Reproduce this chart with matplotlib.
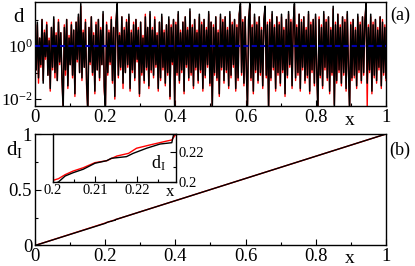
import numpy as np
import matplotlib
matplotlib.use('Agg')
import matplotlib.pyplot as plt
from matplotlib.ticker import FixedLocator, NullFormatter, FixedFormatter

plt.rcParams['font.family'] = ['Liberation Serif', 'DejaVu Serif']
plt.rcParams['mathtext.fontset'] = 'custom'
plt.rcParams['mathtext.rm'] = 'Liberation Serif'
plt.rcParams['mathtext.it'] = 'Liberation Serif:italic'

# panel (a): log10 of d, black and red runs
log_d_black = [
    0.6, -0.9, 0.9, -1.2, 0.3, -0.7, 1.0, -1.4, 0.5, -0.4, 0.8, -1.1, 0.2, -1.6, 0.7, -0.8, 1.1, -1.0, 0.4, -1.3,
    0.9, -0.6, 0.5, -1.2, -2.4, 0.7, -0.9, 1.0, -1.5, 0.3, -0.7, 0.8, -1.1, 0.6, -1.8, 0.9, -0.5, 1.2, -1.0, 1.6,
    -1.2, 0.5, -0.8, 0.9, -1.4, -2.5, 0.7, -0.6, 1.1, -1.0, 0.4, -1.7, 0.8, -0.9, 1.0, -1.2, 0.6, -0.7, 1.3, -1.5,
    -2.4, 0.8, -1.0, 0.5, -0.6, 1.0, -1.3, 0.7, -1.9, 0.9, 1.6, -1.1, 0.4, -0.8, 1.1, -1.4, 0.6, -1.0, 0.9, -0.7,
    1.2, -1.6, 0.5, -0.9, 0.8, -1.2, 1.0, -0.5, 0.6, -1.8, 0.9, -1.0, 0.3, -1.3, 1.1, -0.8, 0.7, -1.5, 1.3, -0.9,
    0.6, -1.1, 1.0, -0.7, 0.4, -1.6, 0.9, -1.2, 1.2, -0.8, 0.5, -1.4, 0.8, -1.0, 1.1, -1.9, 0.7, -0.6, 1.0, -2.4,
    0.8, -1.0, 1.3, -1.3, 0.5, -0.9, 0.9, -1.7, 1.1, -0.7, 0.6, -1.2, 1.4, -1.0, 0.7, -1.5, 1.0, -0.8, 0.5, -1.3,
    1.2, -0.9, 0.8, -1.6, 1.0, -1.1, 0.6, -0.7, 1.3, -1.4, 0.9, -2.5, 0.7, -1.0, 1.1, -1.2, 0.5, -1.8, 1.2, -0.8,
    0.9, -1.3, 1.1, -0.9, 0.6, -1.5, 1.3, -1.1, 0.8, -0.7, 1.0, -1.6, 0.7, -1.2, 1.2, 1.6, -1.0, 0.9, -1.4, 1.1,
    -0.8, -2.4, 1.0, 1.6, -1.2, 0.7, -1.7, 1.2, -0.9, 0.8, -1.3, 1.1, -1.0, 0.6, -1.5, 1.0, 1.5, -1.1, 0.8, -2.5,
    0.9, -1.2, 1.3, -0.8, 0.7, -1.6, 1.1, -1.0, 0.8, -1.4, 1.2, -0.9, 0.6, -1.8, 1.0, -1.1, 1.3, -0.7, 0.9, -1.5,
    0.8, 1.6, -1.2, 0.7, -1.0, 1.2, -1.6, 0.9, -0.8, 1.1, -1.3, 0.6, -1.1, 1.3, -1.7, 0.8, -0.9, 1.0, -1.4, 1.2,
    -0.9, -2.5, 1.0, -1.1, 0.7, -1.5, 1.3, -0.8, 0.9, -1.2, 1.1, -1.7, 0.6, -1.0, 1.5, -2.4, 0.8, -1.3, 1.2, -0.9,
    0.7, -1.4, 1.1, -1.0, 0.9, -1.6, 1.3, -0.8, -2.5, 0.8, -1.2, 1.0, -1.1, 0.6, -1.5, 1.2, -0.9, 0.8, -1.3, 1.1,
    -1.0, 0.9, 1.6, -1.4, 0.7, -0.9, 1.2, -1.7, 0.8, -1.1, 1.0, -1.3, 0.6, -0.8, 1.1, -1.5, 0.9, -1.0, 0.7, -1.2,
]
log_d_red = [
    0.7, -0.9, 0.8, -1.4, 0.3, -0.8, 1.0, -1.3, 0.6, -0.5, 0.9, -1.1, 0.3, -1.7, 0.7, -0.9, 1.0, -1.2, 0.5, -1.3,
    1.0, -0.7, 0.5, -1.3, -2.3, 0.8, -1.1, 1.0, -1.6, 0.4, -0.7, 0.9, -1.2, 0.6, -1.9, 0.9, -0.6, 1.1, -1.0, 1.5,
    -1.3, 0.6, -0.8, 1.0, -1.6, -2.4, 0.7, -0.7, 1.1, -1.1, 0.5, -1.8, 0.9, -0.9, 1.0, -1.3, 0.7, -0.7, 1.2, -1.7,
    -2.2, 0.9, -1.1, 0.6, -0.7, 1.1, -1.4, 0.7, -2.0, 0.9, 1.5, -1.2, 0.5, -0.9, 1.1, -1.6, 0.7, -1.0, 1.0, -0.8,
    1.1, -1.7, 0.6, -1.0, 0.9, -1.3, 1.0, -0.6, 0.7, -1.9, 0.9, -1.1, 0.4, -1.4, 1.2, -0.9, 0.7, -1.6, 1.2, -1.0,
    0.7, -1.2, 1.1, -0.8, 0.5, -1.7, 0.9, -1.3, 1.1, -0.9, 0.6, -1.5, 0.8, -1.1, 1.0, -2.0, 0.8, -0.7, 1.0, -2.2,
    0.9, -1.1, 1.2, -1.4, 0.6, -1.0, 0.9, -1.8, 1.1, -0.8, 0.7, -1.3, 1.3, -1.1, 0.8, -1.6, 1.0, -0.9, 0.6, -1.4,
    1.1, -1.0, 0.9, -1.7, 1.0, -1.2, 0.7, -0.8, 1.2, -1.5, 0.9, -2.3, 0.8, -1.1, 1.1, -1.3, 0.6, -1.9, 1.1, -0.9,
    1.0, -1.4, 1.1, -1.0, 0.7, -1.6, 1.2, -1.2, 0.9, -0.8, 1.0, -1.7, 0.8, -1.3, 1.2, 1.5, -1.1, 1.0, -1.5, 1.1,
    -0.9, -2.2, 1.0, 1.5, -1.3, 0.8, -1.8, 1.1, -1.0, 0.9, -1.4, 1.1, -1.1, 0.7, -1.6, 1.0, 1.4, -1.2, 0.9, -2.3,
    1.0, -1.3, 1.2, -0.9, 0.8, -1.7, 1.1, -1.1, 0.9, -1.5, 1.1, -1.0, 0.7, -1.9, 1.0, -1.2, 1.2, -0.8, 1.0, -1.6,
    0.9, 1.5, -1.3, 0.8, -1.1, 1.2, -1.7, 1.0, -0.9, 1.1, -1.4, 0.7, -1.2, 1.2, -1.8, 0.9, -1.0, 1.0, -1.5, 1.1,
    -1.0, -2.3, 1.1, -1.2, 0.8, -1.6, 1.2, -0.9, 1.0, -1.3, 1.1, -1.8, 0.7, -1.1, 1.4, -2.2, 0.9, -1.4, 1.2, -1.0,
    0.8, -1.5, 1.1, -1.1, 1.0, -1.7, 1.2, -0.9, -2.3, 0.9, -1.3, 1.0, -1.2, 0.7, -1.6, 1.1, -1.0, 0.9, -1.4, 1.1,
    -1.1, 1.0, 1.5, -2.3, 0.8, -1.0, 1.1, -1.8, 0.9, -1.2, 1.0, -1.4, 0.7, -0.9, 1.1, -1.6, 1.0, -1.1, 0.8, -1.3,
]
d_mean = 1.0

# panel (b): d_I against x (main curve is the diagonal, detail from inset)
black_x = [0.0, 0.2013, 0.2029, 0.2048, 0.2072, 0.2100, 0.2128, 0.2139, 0.2175, 0.2191, 0.2223, 0.2255, 0.2283, 0.2287, 1.0]
black_y = [0.0, 0.2000, 0.2040, 0.2062, 0.2085, 0.2125, 0.2142, 0.2158, 0.2169, 0.2191, 0.2225, 0.2253, 0.2262, 0.2313, 1.0]
red_x = [0.0, 0.2, 0.2013, 0.2029, 0.2048, 0.2072, 0.2100, 0.2128, 0.2152, 0.2180, 0.2199, 0.2231, 0.2271, 0.2283, 0.2293, 1.0]
red_y = [0.0, 0.2011, 0.2022, 0.2049, 0.2073, 0.2095, 0.2129, 0.2142, 0.2173, 0.2191, 0.2225, 0.2247, 0.2273, 0.2280, 0.2320, 1.0]

x_a = np.linspace(0, 1, len(log_d_black))
d_black = 10 ** np.array(log_d_black)
d_red = 10 ** np.array(log_d_red)

fig = plt.figure(figsize=(4.15, 2.66), dpi=100)
ax_a = fig.add_axes([0.0843, 0.6015, 0.8458, 0.391])
ax_b = fig.add_axes([0.0843, 0.0771, 0.8458, 0.4191])
ax_in = fig.add_axes([0.1277, 0.3158, 0.2964, 0.1805])

for ax in (ax_a, ax_b, ax_in):
    for s in ax.spines.values():
        s.set_linewidth(1.0)
    ax.tick_params(which='both', direction='in', top=False, right=False, width=0.8, labelsize=13.5, pad=2)
    ax.tick_params(which='major', length=4)
    ax.tick_params(which='minor', length=2)

# (a)
ax_a.plot(x_a, d_red, color='red', lw=1.0)
ax_a.plot(x_a, d_black, color='black', lw=1.1)
ax_a.axhline(d_mean, color='#0000b0', lw=1.5, ls=(0, (2.5, 1.5)), zorder=5)
ax_a.set_yscale('log')
ax_a.set_xlim(0, 1)
ax_a.set_ylim(10 ** -2.26, 10 ** 1.66)
ax_a.yaxis.set_major_locator(FixedLocator([1e-2, 1e0]))
ax_a.yaxis.set_major_formatter(FixedFormatter([r'$10^{-2}$', r'$10^{0}$']))
ax_a.yaxis.set_minor_locator(FixedLocator([1e-1, 1e1]))
ax_a.yaxis.set_minor_formatter(NullFormatter())
ax_a.tick_params(axis='y', labelsize=12.5, pad=1.5)
ax_a.set_xticks([0, 0.2, 0.4, 0.6, 0.8, 1])
ax_a.set_xticklabels(['0', '0.2', '0.4', '0.6', '0.8', '1'])
ax_a.set_xticks(np.arange(0.1, 1, 0.2), minor=True)
ax_a.text(-0.048, 0.85, 'd', transform=ax_a.transAxes, fontsize=15, ha='center', va='center')
ax_a.text(0.897, -0.14, 'x', transform=ax_a.transAxes, fontsize=14, ha='center', va='center')
ax_a.text(1.04, 0.875, '(a)', transform=ax_a.transAxes, fontsize=13, ha='center', va='center')

# (b)
ax_b.plot(red_x, red_y, color='red', lw=1.0)
ax_b.plot(black_x, black_y, color='black', lw=1.0)
ax_b.set_xlim(0, 1)
ax_b.set_ylim(0, 1)
ax_b.set_xticks([0, 0.2, 0.4, 0.6, 0.8, 1])
ax_b.set_xticklabels(['0', '0.2', '0.4', '0.6', '0.8', '1'])
ax_b.set_xticks(np.arange(0.1, 1, 0.2), minor=True)
ax_b.set_yticks([0, 0.5, 1])
ax_b.set_yticklabels(['0', '0.5', '1'])
ax_b.set_yticks([0.25, 0.75], minor=True)
ax_b.text(-0.057, 0.857, r'd$_\mathrm{I}$', transform=ax_b.transAxes, fontsize=15, ha='center', va='center')
ax_b.text(0.897, -0.12, 'x', transform=ax_b.transAxes, fontsize=14, ha='center', va='center')
ax_b.text(1.04, 0.857, '(b)', transform=ax_b.transAxes, fontsize=13, ha='center', va='center')

# inset
ax_in.plot(red_x, red_y, color='red', lw=1.0)
ax_in.plot(black_x, black_y, color='black', lw=1.0)
ax_in.set_xlim(0.2, 0.2293)
ax_in.set_ylim(0.2, 0.232)
ax_in.set_xticks([0.2, 0.21, 0.22])
ax_in.set_xticklabels(['0.2', '0.21', '0.22'])
ax_in.set_xticks([0.205, 0.215, 0.225], minor=True)
ax_in.yaxis.tick_right()
ax_in.set_yticks([0.2, 0.22])
ax_in.set_yticklabels(['0.2', '0.22'])
ax_in.set_yticks([0.21], minor=True)
ax_in.tick_params(which='both', labelsize=10.5, pad=1.5)
ax_in.text(0.854, 0.40, r'd$_\mathrm{I}$', transform=ax_in.transAxes, fontsize=13, ha='center', va='center')
ax_in.text(0.951, -0.05, 'x', transform=ax_in.transAxes, fontsize=12, ha='center', va='top')

fig.savefig('out.png', dpi=100)
